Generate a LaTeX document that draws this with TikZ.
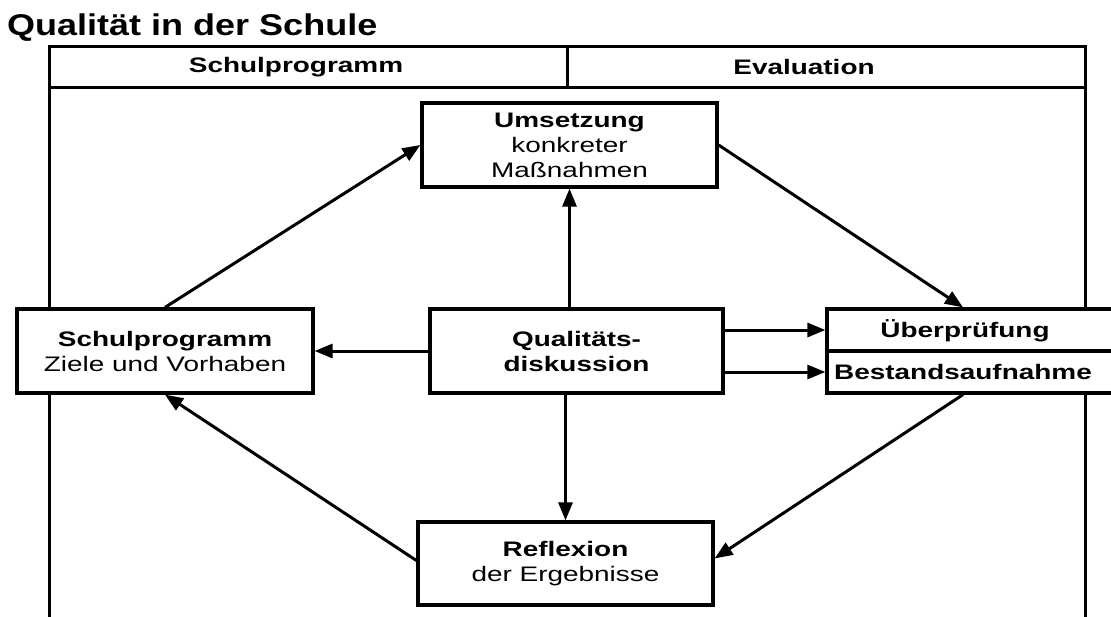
\documentclass[tikz,border=0pt]{standalone}
\usepackage{fontspec}
\setmainfont{Liberation Sans}
% wide grotesque look for all labels
\newfontfamily\widesans[FakeStretch=1.33]{Liberation Sans}
\newfontfamily\titlesans[FakeStretch=1.2]{Liberation Sans}
\usetikzlibrary{arrows.meta}
\newcommand\boxtext{\widesans\fontsize{21}{25}\selectfont}
\newcommand\titletext{\titlesans\bfseries\fontsize{30}{34}\selectfont}
\begin{document}
\begin{tikzpicture}[x=1pt,y=-1pt,
  frameline/.style={line width=3pt,line cap=rect},
  box/.style={draw,line width=3.2pt,fill=white,inner sep=0pt,align=center,font=\boxtext},
  lbl/.style={inner sep=0pt,align=center,font=\boxtext},
  arr/.style={line width=3pt,-{Triangle[length=18pt,width=14pt]}}]
\clip (0,0) rectangle (1111,616);
\fill[white] (0,0) rectangle (1111,616);

% title
\node[anchor=base west,inner sep=0pt,font=\titletext] (title) at (7,35) {Qualität in der Schule};

% open frame with header row
\draw[frameline] (49,620) -- (49,46) -- (1085,46) -- (1085,620);
\draw[frameline] (49,87) -- (1085,87);
\draw[frameline] (567,46) -- (567,87);
\node[lbl,font=\boxtext\bfseries] (hleft) at (296,67) {Schulprogramm};
\node[lbl,font=\boxtext\bfseries] (hright) at (804,67) {Evaluation};

% boxes
\node[box,minimum width=295pt,minimum height=84pt] (um) at (569.5,145)
  {\bfseries Umsetzung\\konkreter\\Maßnahmen};
\node[box,minimum width=296pt,minimum height=84pt] (sp) at (165,351)
  {\bfseries Schulprogramm\\Ziele und Vorhaben};
\node[box,minimum width=293pt,minimum height=84pt] (qd) at (576.5,351)
  {\bfseries Qualitäts-\\\bfseries diskussion};
\node[box,minimum width=291pt,minimum height=42pt] (ub1) at (972.5,330) {};
\node[box,minimum width=291pt,minimum height=42pt] (ub2) at (972.5,372) {};
\node[lbl,font=\boxtext\bfseries] (ubt1) at (965,331) {Überprüfung};
\node[lbl,font=\boxtext\bfseries] (ubt2) at (963,372) {Bestandsaufnahme};
\node[box,minimum width=295pt,minimum height=83pt] (rf) at (565.5,563.5)
  {\bfseries Reflexion\\der Ergebnisse};

% connectors
\draw[arr] (sp.north) -- (um.west);
\draw[arr] (qd.north -| um.south) -- (um.south);
\draw[arr] (um.east) -- ([xshift=-9.5pt]ub1.north);
\draw[arr] (qd.west) -- (sp.east);
\draw[arr] (qd.east |- ub1.west) -- (ub1.west);
\draw[arr] (qd.east |- ub2.west) -- (ub2.west);
\draw[arr] (qd.south -| rf.north) -- (rf.north);
\draw[arr] ([xshift=-9.5pt]ub2.south) -- ([yshift=5pt]rf.east);
\draw[arr] ([yshift=3pt]rf.west) -- (sp.south);
\end{tikzpicture}
\end{document}
